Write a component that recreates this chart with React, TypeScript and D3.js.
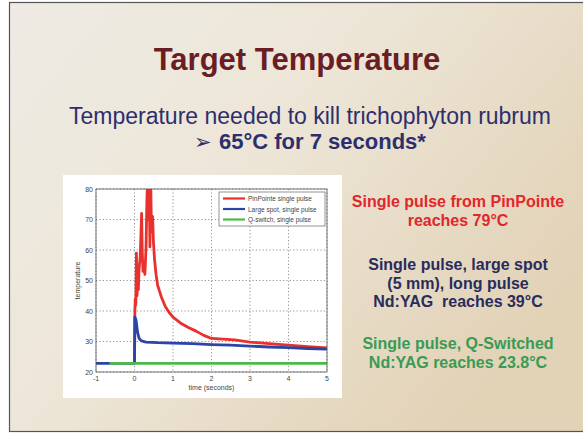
import React from "react";
import * as d3 from "d3";

// series: [time (s), temperature]
const pinPointe: [number, number][] = [
  [0, 23], [0.01, 40], [0.02, 44], [0.035, 42], [0.05, 59], [0.065, 45], [0.08, 50], [0.1, 47],
  [0.12, 54], [0.15, 58], [0.185, 72], [0.2, 60], [0.22, 53], [0.25, 56], [0.27, 52],
  [0.3, 61], [0.32, 75], [0.34, 84], [0.36, 70], [0.38, 86], [0.4, 61], [0.42, 84],
  [0.44, 66], [0.47, 71], [0.49, 63], [0.52, 57], [0.56, 52], [0.6, 48.5], [0.7, 44.5],
  [0.8, 41.5], [0.9, 39.5], [1.0, 38], [1.2, 36], [1.4, 34.6], [1.6, 33.4], [1.8, 32],
  [2.0, 31], [2.3, 30.8], [2.6, 30.5], [3.0, 29.8], [3.5, 29.3], [4.0, 28.8], [4.5, 28.3], [5.0, 27.9],
];
const largeSpot: [number, number][] = [
  [-1, 22.8], [0, 22.8], [0.01, 38], [0.04, 37], [0.08, 33], [0.12, 31], [0.18, 30.2],
  [0.3, 29.8], [0.6, 29.6], [1.0, 29.5], [1.5, 29.3], [2.0, 29], [2.5, 28.8], [3.0, 28.5],
  [3.5, 28.2], [4.0, 28], [4.5, 27.7], [5.0, 27.5],
];
const qSwitch: [number, number][] = [[-0.65, 22.8], [5, 22.8]];

const seriesNames = ["PinPointe single pulse", "Large spot, single pulse", "Q-switch, single pulse"];
const seriesColors = ["#e8302c", "#2b44a6", "#4cba48"];
const xTicks = [-1, 0, 1, 2, 3, 4, 5];
const yTicks = [20, 30, 40, 50, 60, 70, 80];

const notes = [
  { lines: ["Single pulse from PinPointe", "reaches 79°C"], color: "#e3262b", y: 207 },
  { lines: ["Single pulse, large spot", "(5 mm), long pulse", "Nd:YAG  reaches 39°C"], color: "#2a2b5c", y: 270 },
  { lines: ["Single pulse, Q-Switched", "Nd:YAG reaches 23.8°C"], color: "#3a9a55", y: 349 },
];

export default function App() {
  const W = 583, H = 433;
  const x = d3.scaleLinear().domain([-1, 5]).range([96, 327]);
  const y = d3.scaleLinear().domain([20, 80]).range([372, 189]);
  const line = d3.line<[number, number]>().x(d => x(d[0])).y(d => y(d[1]));
  const data = [pinPointe, largeSpot, qSwitch];
  const font = "'Liberation Sans', Arial, sans-serif";

  return (
    <svg width={W} height={H} style={{ position: "absolute", left: 0, top: 0 }} fontFamily={font}>
      <defs>
        <linearGradient id="bg" x1="0" y1="0" x2="1" y2="0.6">
          <stop offset="0" stopColor="#eeebe4" />
          <stop offset="0.45" stopColor="#ede6d8" />
          <stop offset="1" stopColor="#e2d2b6" />
        </linearGradient>
        <clipPath id="plot">
          <rect x={x(-1)} y={y(80)} width={x(5) - x(-1)} height={y(20) - y(80)} />
        </clipPath>
      </defs>
      <rect x={0} y={0} width={W} height={H} fill="#fff" />
      <rect x={9.5} y={2.5} width={W} height={429} fill="url(#bg)" stroke="#555" strokeWidth={1.2} />

      <text x={297} y={70} textAnchor="middle" fontSize={31} fontWeight="bold" fill="#6a1e24">
        Target Temperature
      </text>
      <text x={310} y={124} textAnchor="middle" fontSize={23} fill="#2d2f6c">
        Temperature needed to kill trichophyton rubrum
      </text>
      <text x={310} y={149} textAnchor="middle" fontSize={22} fontWeight="bold" fill="#2d2f6c">
        <tspan fontFamily="'DejaVu Sans'" fontSize={21}>➢ </tspan>65°C for 7 seconds*
      </text>

      {/* chart picture */}
      <rect x={63} y={175} width={279} height={223} fill="#fff" />
      <g fontSize={7} fill="#444">
        {xTicks.map(t => (
          <g key={"x" + t}>
            <line x1={x(t)} x2={x(t)} y1={y(80)} y2={y(20)} stroke="#777" strokeWidth={0.8} strokeDasharray="1.2,2.2" />
            <text x={x(t)} y={y(20) + 9} textAnchor="middle">{t}</text>
          </g>
        ))}
        {yTicks.map(t => (
          <g key={"y" + t}>
            <line x1={x(-1)} x2={x(5)} y1={y(t)} y2={y(t)} stroke="#777" strokeWidth={0.8} strokeDasharray="1.2,2.2" />
            <text x={x(-1) - 3} y={y(t) + 2.5} textAnchor="end">{t}</text>
          </g>
        ))}
        <text x={x(2)} y={390} textAnchor="middle">time (seconds)</text>
        <text transform={`translate(80,${y(50)}) rotate(-90)`} textAnchor="middle">temperature</text>
      </g>
      <g clipPath="url(#plot)" fill="none" strokeWidth={2.8} strokeLinejoin="round">
        {data.map((d, i) => (
          <path key={i} d={line(d) ?? ""} stroke={seriesColors[i]} />
        ))}
      </g>
      <rect x={x(-1)} y={y(80)} width={x(5) - x(-1)} height={y(20) - y(80)} fill="none" stroke="#555" strokeWidth={0.8} />

      <g>
        <rect x={219} y={192} width={106} height={34} fill="#fff" stroke="#666" strokeWidth={0.7} />
        {seriesNames.map((n, i) => (
          <g key={n}>
            <line x1={223} x2={245} y1={198.5 + i * 10.5} y2={198.5 + i * 10.5} stroke={seriesColors[i]} strokeWidth={2.2} />
            <text x={248} y={201 + i * 10.5} fontSize={6.5} fill="#444">{n}</text>
          </g>
        ))}
      </g>

      {notes.map(nt => (
        <text key={nt.lines[0]} textAnchor="middle" fontSize={16} fontWeight="bold" fill={nt.color} xmlSpace="preserve">
          {nt.lines.map((l, j) => (
            <tspan key={j} x={458} y={nt.y + j * 18.5}>{l}</tspan>
          ))}
        </text>
      ))}
    </svg>
  );
}
